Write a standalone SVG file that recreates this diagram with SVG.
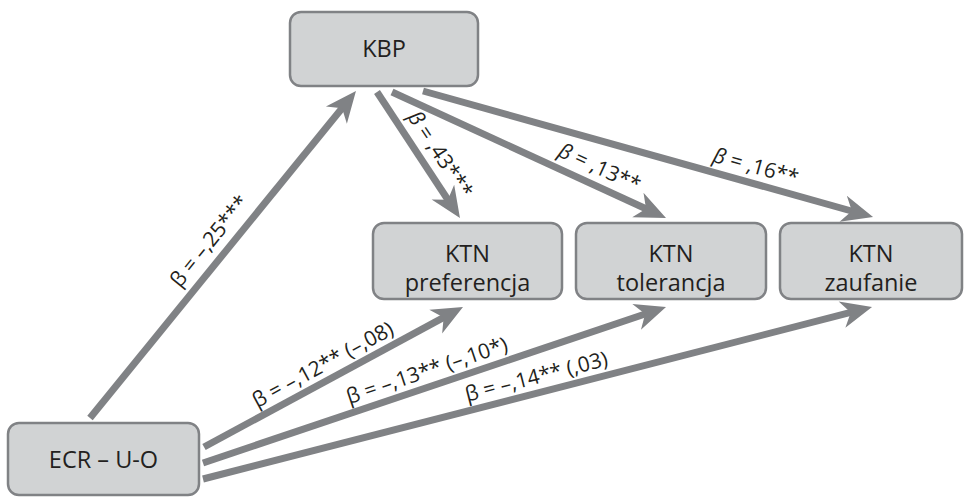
<svg xmlns="http://www.w3.org/2000/svg" width="964" height="497" viewBox="0 0 964 497">
  <style>
    .box rect { fill: #d1d3d4; stroke: #808285; stroke-width: 2.5; }
    .box text { font-family: "Open Sans", "Noto Sans", sans-serif; font-size: 23.5px; fill: #231f20; text-anchor: middle; }
    .edge { stroke: #808285; stroke-width: 7; fill: none; marker-end: url(#head); }
    .lbl { font-family: "Open Sans", "Noto Sans", sans-serif; font-size: 21px; fill: #231f20; text-anchor: middle; }
    .it { font-style: italic; }
  </style>
  <defs>
    <!-- barbed arrowhead; the line stops 15 px short of the tip -->
    <marker id="head" markerUnits="userSpaceOnUse" orient="auto" viewBox="-17 -15 34 30" refX="0" refY="0" markerWidth="34" markerHeight="30">
      <path d="M15,0 L-16,-13.5 L-7,0 L-16,13.5 Z" fill="#808285"/>
    </marker>
  </defs>

  <g id="connectors">
    <line class="edge" x1="90" y1="418" x2="346.5" y2="102.7"/>
    <line class="edge" x1="377" y1="92" x2="451.7" y2="205.5"/>
    <line class="edge" x1="392" y1="92" x2="652.4" y2="211.7"/>
    <line class="edge" x1="423" y1="91" x2="858.6" y2="213"/>
    <line class="edge" x1="204" y1="447" x2="449.8" y2="314.1"/>
    <line class="edge" x1="203" y1="463" x2="651.8" y2="311.8"/>
    <line class="edge" x1="203" y1="479" x2="857.5" y2="310.7"/>
  </g>

  <g id="labels">
    <text class="lbl" transform="translate(214.8,245.5) rotate(-50.9)">β = –,25***</text>
    <text class="lbl" transform="translate(434.5,158.3) rotate(56.3)"><tspan class="it">β</tspan> = ,43***</text>
    <text class="lbl" transform="translate(596.7,174) rotate(24.7)"><tspan class="it">β</tspan> = ,13**</text>
    <text class="lbl" transform="translate(754,173.3) rotate(15.6)"><tspan class="it">β</tspan> = ,16**</text>
    <text class="lbl" transform="translate(326.2,370.8) rotate(-28.4)">β = –,12** (–,08)</text>
    <text class="lbl" transform="translate(429.2,377.3) rotate(-18.6)">β = –,13** (–,10*)</text>
    <text class="lbl" transform="translate(538.2,383.5) rotate(-14.4)">β = –,14** (,03)</text>
  </g>

  <g id="kbp" class="box">
    <rect x="290" y="12" width="188" height="74" rx="11"/>
    <text x="384" y="57">KBP</text>
  </g>
  <g id="ktn-preferencja" class="box">
    <rect x="373" y="223" width="189" height="76" rx="11"/>
    <text x="467.5" y="262">KTN</text>
    <text x="467.5" y="291">preferencja</text>
  </g>
  <g id="ktn-tolerancja" class="box">
    <rect x="576" y="223" width="190" height="76" rx="11"/>
    <text x="671" y="262">KTN</text>
    <text x="671" y="291">tolerancja</text>
  </g>
  <g id="ktn-zaufanie" class="box">
    <rect x="780" y="223" width="182" height="76" rx="11"/>
    <text x="871" y="262">KTN</text>
    <text x="871" y="291">zaufanie</text>
  </g>
  <g id="ecr-uo" class="box">
    <rect x="8" y="423" width="191" height="72" rx="11"/>
    <text x="103.5" y="468">ECR – U-O</text>
  </g>
</svg>
